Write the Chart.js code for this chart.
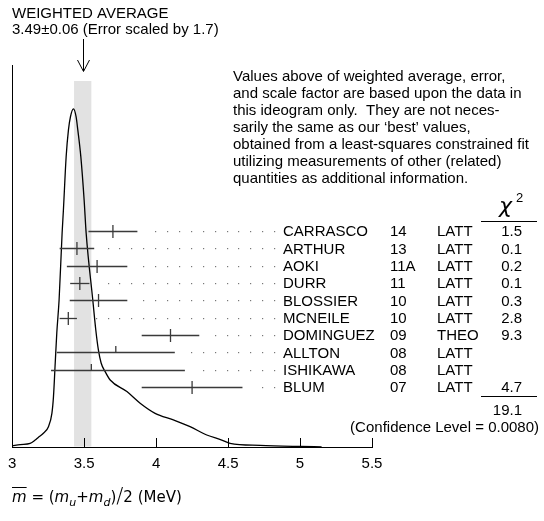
<!DOCTYPE html>
<html><head><meta charset="utf-8">
<script src="https://cdn.jsdelivr.net/npm/chart.js@4.4.1/dist/chart.umd.min.js"></script>
<style>
html,body{margin:0;padding:0;background:#fff;}
#wrap{position:relative;width:544px;height:521px;}
#c{position:absolute;left:0;top:0;}
#xt{position:absolute;left:12px;top:486px;font:15px "DejaVu Sans",sans-serif;color:#000;white-space:nowrap;line-height:20px;}
#xt sub{font-size:11px;vertical-align:-4px;line-height:0;}
#xt .ov{text-decoration:overline;}
#xt .sl{font-size:21px;vertical-align:-1px;font-weight:lighter;}
</style></head><body>
<div id="wrap"><canvas id="c" width="544" height="521"></canvas>
<div id="xt"><span class="ov"><i>m</i></span> = (<i>m</i><sub><i>u</i></sub>+<i>m</i><sub><i>d</i></sub>)<span class="sl">/</span>2 (MeV)</div></div>
<script>
// ---- data ----
const names = ['CARRASCO','ARTHUR','AOKI','DURR','BLOSSIER','MCNEILE','DOMINGUEZ','ALLTON','ISHIKAWA','BLUM'];
const years = ['14','13','11A','11','10','10','09','08','08','07'];
const types = ['LATT','LATT','LATT','LATT','LATT','LATT','THEO','LATT','LATT','LATT'];
const values = [3.70, 3.45, 3.59, 3.47, 3.60, 3.39, 4.10, 3.72, 3.55, 4.25];
const errMinus = [0.17, 0.12, 0.21, 0.067, 0.20, 0.06, 0.20, 0.41, 0.28, 0.35];
const errPlus  = [0.17, 0.12, 0.21, 0.067, 0.20, 0.06, 0.20, 0.41, 0.65, 0.35];
const chi2 = ['1.5','0.1','0.2','0.1','0.3','2.8','9.3','','','4.7'];
const usedInFit = [true,true,true,true,true,true,true,false,false,true];
const chi2Total = '19.1';
const confidence = '(Confidence Level = 0.0080)';
const avgValue = 3.49, avgError = 0.06;
const avgTitle = 'WEIGHTED AVERAGE';
const avgText = '3.49\u00B10.06 (Error scaled by 1.7)';
const noteLines = [
 'Values above of weighted average, error,',
 'and scale factor are based upon the data in',
 'this ideogram only.  They are not neces-',
 "sarily the same as our \u2018best\u2019 values,",
 'obtained from a least-squares constrained fit',
 'utilizing measurements of other (related)',
 'quantities as additional information.'
];
const curveX = [3.000,3.056,3.125,3.160,3.181,3.217,3.252,3.276,3.287,3.299,3.310,3.326,3.347,3.356,3.375,3.391,3.405,3.426,3.444,3.456,3.477,3.500,3.514,3.560,3.581,3.599,3.618,3.646,3.681,3.797,3.889,3.993,4.120,4.236,4.352,4.456,4.514,4.722,5.000,5.150];
const curveY = [0.06,0.14,0.21,0.40,0.55,0.79,1.17,1.94,2.90,4.82,6.57,8.47,12.32,13.65,16.72,18.26,19.02,19.47,19.02,18.26,16.72,14.22,12.32,8.47,6.74,5.59,4.84,4.34,3.86,3.19,2.52,1.94,1.56,1.17,0.69,0.40,0.21,0.09,0.03,0.01];
const xTickLabels = ['3','3.5','4','4.5','5','5.5'];
const firstRow = 12.45;   // y-scale value of first measurement row (one unit per row)
const bandTop = 21.08;

const FONT = '"Liberation Sans", Arial, Helvetica, sans-serif';

const ideogram = {
  id: 'ideogram',
  beforeDatasetsDraw(chart) {
    const {ctx, scales: {x, y}} = chart;
    ctx.save();
    ctx.fillStyle = '#e2e2e2';
    const l = x.getPixelForValue(avgValue - avgError), r = x.getPixelForValue(avgValue + avgError);
    const t = y.getPixelForValue(bandTop), b = y.getPixelForValue(0) - 0.5;
    ctx.fillRect(l, t, r - l, b - t);
    ctx.restore();
  },
  afterDatasetsDraw(chart) {
    const {ctx, scales: {x, y}} = chart;
    ctx.save();
    ctx.strokeStyle = '#000'; ctx.lineWidth = 1;
    const by = Math.round(y.getPixelForValue(0)) + 0.5;
    x.ticks.forEach(t => {
      if (t.value <= x.min) return;
      const px = Math.round(x.getPixelForValue(t.value)) + 0.5;
      ctx.beginPath(); ctx.moveTo(px, by); ctx.lineTo(px, by - 9.5); ctx.stroke();
    });
    const lastDot = x.getPixelForValue(4.82);
    values.forEach((v, i) => {
      const py = Math.round(y.getPixelForValue(firstRow - i)) + 0.5;
      const lo = x.getPixelForValue(v - errMinus[i]);
      const hi = x.getPixelForValue(v + errPlus[i]);
      const c = x.getPixelForValue(v);
      ctx.strokeStyle = '#3a3a3a'; ctx.lineWidth = 1.3;
      ctx.beginPath(); ctx.moveTo(lo, py); ctx.lineTo(hi, py); ctx.stroke();
      ctx.beginPath();
      if (usedInFit[i]) { ctx.moveTo(c, py - 6.5); ctx.lineTo(c, py + 6.5); }
      else { ctx.moveTo(c, py); ctx.lineTo(c, py - 6.5); }
      ctx.stroke();
      ctx.fillStyle = '#777';
      for (let px = lastDot; px > hi + 10; px -= 11.9) {
        ctx.fillRect(Math.round(px), py - 0.5, 1.2, 1.2);
      }
    });
    ctx.restore();
  },
  afterDraw(chart) {
    const {ctx, scales: {x, y}} = chart;
    ctx.save();
    ctx.fillStyle = '#000'; ctx.strokeStyle = '#000';
    ctx.font = '15px ' + FONT;
    ctx.textBaseline = 'alphabetic';
    ctx.textAlign = 'left';
    ctx.fillText(avgTitle, 12, 18);
    ctx.fillText(avgText, 12, 34);
    const ax = Math.round(x.getPixelForValue(avgValue)) + 0.5;
    ctx.lineWidth = 1;
    ctx.beginPath(); ctx.moveTo(ax, 39); ctx.lineTo(ax, 71); ctx.stroke();
    ctx.beginPath(); ctx.moveTo(ax - 6, 60); ctx.lineTo(ax, 71.5); ctx.lineTo(ax + 6, 60); ctx.stroke();
    noteLines.forEach((s, i) => ctx.fillText(s, 233, 80.5 + 17 * i));
    values.forEach((v, i) => {
      const py = y.getPixelForValue(firstRow - i) + 5.4;
      ctx.textAlign = 'left';
      ctx.fillText(names[i], 283, py);
      ctx.fillText(years[i], 390, py);
      ctx.fillText(types[i], 437, py);
      ctx.textAlign = 'right';
      ctx.fillText(chi2[i], 522, py);
    });
    ctx.textAlign = 'left';
    ctx.font = 'italic 22px "DejaVu Sans", sans-serif';
    ctx.fillText('\u03C7', 499, 213);
    ctx.font = '13px ' + FONT;
    ctx.fillText('2', 516, 202);
    ctx.lineWidth = 1;
    const yUnder1 = Math.round(y.getPixelForValue(firstRow + 0.55)) + 0.5;
    const yUnder2 = Math.round(y.getPixelForValue(firstRow - 9.5)) + 0.5;
    ctx.beginPath(); ctx.moveTo(481, yUnder1); ctx.lineTo(537, yUnder1); ctx.stroke();
    ctx.beginPath(); ctx.moveTo(481, yUnder2); ctx.lineTo(537, yUnder2); ctx.stroke();
    ctx.font = '15px ' + FONT;
    ctx.textAlign = 'right';
    ctx.fillText(chi2Total, 522, yUnder2 + 18);
    ctx.fillText(confidence, 539, yUnder2 + 35.5);
    ctx.restore();
  }
};

new Chart(document.getElementById('c'), {
  type: 'line',
  data: {
    datasets: [{
      data: curveX.map((v, i) => ({x: v, y: curveY[i]})),
      borderColor: '#000', borderWidth: 1.3, pointRadius: 0,
      cubicInterpolationMode: 'monotone', fill: false
    }]
  },
  options: {
    responsive: false, animation: false, devicePixelRatio: 1,
    layout: {padding: {left: 12, right: 172, top: 65, bottom: 0}},
    plugins: {legend: {display: false}, tooltip: {enabled: false}},
    scales: {
      x: {
        type: 'linear', min: 3, max: 5.5,
        grid: {display: false, drawTicks: false},
        border: {display: true, color: '#000', width: 1},
        ticks: {stepSize: 0.5, padding: 8, color: '#000', font: {family: FONT, size: 15},
                callback: (v, i) => xTickLabels[i], maxRotation: 0, autoSkip: false},
        afterFit: s => { s.height = 74; }
      },
      y: {
        type: 'linear', min: 0, max: 22,
        grid: {display: false, drawTicks: false},
        border: {display: true, color: '#000', width: 1},
        ticks: {display: false},
        afterFit: s => { s.width = 0; }
      }
    }
  },
  plugins: [ideogram]
});
</script>
</body></html>
